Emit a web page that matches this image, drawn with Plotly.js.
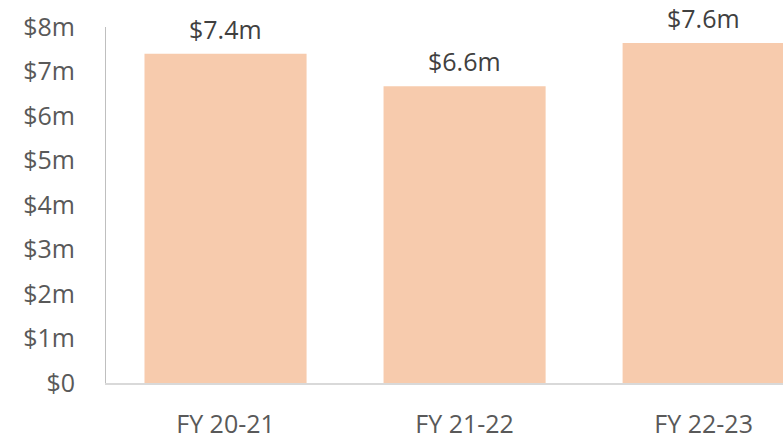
<!DOCTYPE html>
<html>
<head>
<meta charset="utf-8">
<script src="https://cdn.plot.ly/plotly-3.0.1.min.js"></script>
<style>html,body{margin:0;padding:0;background:#fff;}#chart{width:783px;height:440px;}</style>
</head>
<body>
<div id="chart"></div>
<script>
const categories = ["FY 20-21", "FY 21-22", "FY 22-23"];
const values = [7.40, 6.67, 7.64];
const valueLabels = ["$7.4m", "$6.6m", "$7.6m"];
const tickValues = [0, 1, 2, 3, 4, 5, 6, 7, 8];
const tickLabels = ["$0", "$1m", "$2m", "$3m", "$4m", "$5m", "$6m", "$7m", "$8m"];

const FONT = "Open Sans, sans-serif";

const trace = {
  type: "bar",
  x: categories,
  y: values,
  width: 0.678,
  marker: {color: "#f7cbad"},
  hoverinfo: "none"
};

const annotations = categories.map((c, i) => ({
  x: c, y: values[i], xref: "x", yref: "y",
  text: valueLabels[i], showarrow: false,
  yanchor: "middle", yshift: 25,
  font: {family: FONT, size: 25, color: "#404040"}
}));

const layout = {
  width: 783, height: 440,
  margin: {l: 106, r: 0, t: 27, b: 57, pad: 0},
  paper_bgcolor: "#fff", plot_bgcolor: "#fff",
  showlegend: false,
  xaxis: {
    type: "category",
    range: [-0.5, 2.332],
    showgrid: false, zeroline: false,
    showline: true, linecolor: "#d9d9d9", linewidth: 1.5,
    ticks: "", ticklabelstandoff: 18,
    tickfont: {family: FONT, size: 25, color: "#595959"},
    fixedrange: true
  },
  yaxis: {
    range: [0, 8],
    tickvals: tickValues, ticktext: tickLabels,
    showgrid: false, zeroline: false,
    showline: true, linecolor: "#bfbfbf", linewidth: 1,
    ticks: "", ticklabelstandoff: 25,
    tickfont: {family: FONT, size: 25, color: "#595959"},
    fixedrange: true
  },
  annotations: annotations
};

Plotly.newPlot("chart", [trace], layout, {displayModeBar: false, staticPlot: true});
</script>
</body>
</html>
